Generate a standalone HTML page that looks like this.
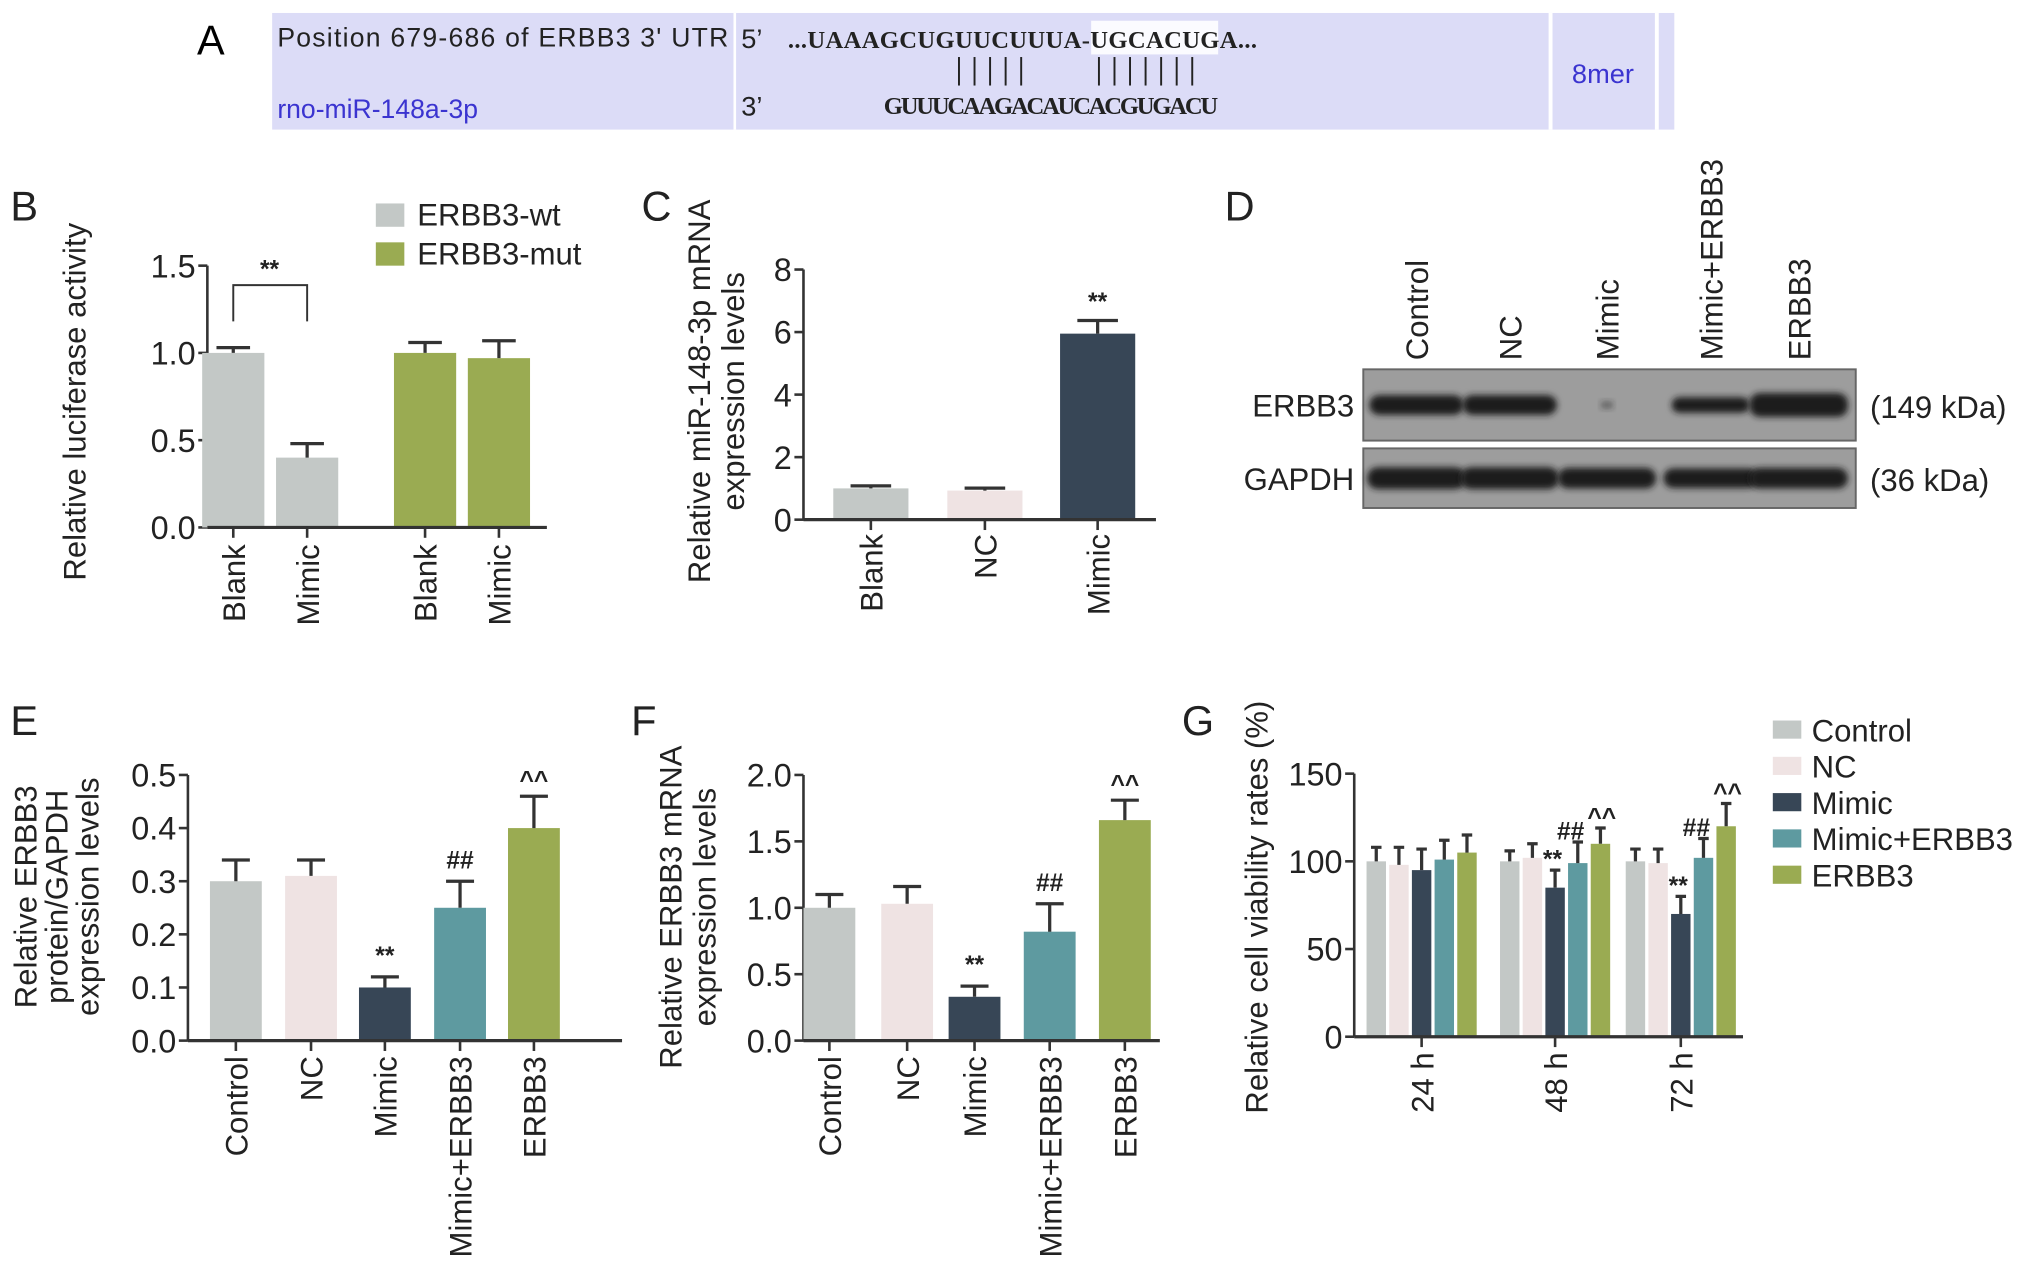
<!DOCTYPE html>
<html><head><meta charset="utf-8"><style>
html,body{margin:0;padding:0;background:#fff;}
svg{display:block;font-family:"Liberation Sans",sans-serif;}
</style></head><body>
<svg id="fig" width="2032" height="1281" viewBox="0 0 1568 988.5" xmlns="http://www.w3.org/2000/svg">
<defs><filter id="blur" x="-20%" y="-60%" width="140%" height="220%"><feGaussianBlur stdDeviation="2.5"/></filter></defs>
<g>
<text x="152" y="42" font-size="32">A</text>
<rect x="210" y="10" width="1082" height="90" fill="#dcdcf7"/>
<rect x="566" y="10" width="2" height="90" fill="#fff"/>
<rect x="1195" y="10" width="3" height="90" fill="#fff"/>
<rect x="1277" y="10" width="3" height="90" fill="#fff"/>
<rect x="842" y="16" width="98" height="26" fill="#fbfbff"/>
<text x="214" y="36" font-size="20.5" fill="#222" textLength="348">Position 679-686 of ERBB3 3' UTR</text>
<text x="214" y="91" font-size="20.5" fill="#3b34d0">rno-miR-148a-3p</text>
<text x="572" y="37" font-size="21" fill="#222">5’</text>
<text x="572" y="89" font-size="21" fill="#222">3’</text>
<text x="608" y="37" font-size="19" font-family="Liberation Serif,serif" font-weight="bold" fill="#222" textLength="362">...UAAAGCUGUUCUUUA-UGCACUGA...</text>
<text x="682" y="88" font-size="19" font-family="Liberation Serif,serif" font-weight="bold" fill="#222" textLength="258">GUUUCAAGACAUCACGUGACU</text>
<g id="pairs" stroke="#222" stroke-width="1.5"></g>
<text x="1213" y="64" font-size="21" fill="#3b34d0">8mer</text>
</g>
<g id="plots"></g>
</svg>
<script>
// ---- data ----
const bCats=["Blank","Mimic","Blank","Mimic"];
const bVals=[1.0,0.40,1.0,0.97];
const bErr=[0.03,0.08,0.06,0.10];
const cCats=["Blank","NC","Mimic"];
const cVals=[1.0,0.93,5.95];
const cErr=[0.08,0.08,0.42];
const eCats=["Control","NC","Mimic","Mimic+ERBB3","ERBB3"];
const eVals=[0.30,0.31,0.10,0.25,0.40];
const eErr=[0.04,0.03,0.02,0.05,0.06];
const fVals=[1.0,1.03,0.33,0.82,1.66];
const fErr=[0.10,0.13,0.08,0.21,0.15];
const gTimes=["24 h","48 h","72 h"];
const gSeries=["Control","NC","Mimic","Mimic+ERBB3","ERBB3"];
const g24=[100,98,95,101,105];
const g48=[100,102,85,99,110];
const g72=[100,99,70,102,120];
const gErr24=[8,10,12,11,10];
const gErr48=[6,8,10,12,9];
const gErr72=[7,8,10,11,13];
const bTicks=["0.0","0.5","1.0","1.5"];
const cTicks=["0","2","4","6","8"];
const eTicks=["0.0","0.1","0.2","0.3","0.4","0.5"];
const fTicks=["0.0","0.5","1.0","1.5","2.0"];
const gTicks=["0","50","100","150"];
const lanes=["Control","NC","Mimic","Mimic+ERBB3","ERBB3"];
const erbbBand=[0.95,0.95,0.05,0.75,1.15];
const gapdhBand=[1.05,1.05,1.0,0.95,1.0];

const COLORS=["#c3c8c6","#efe3e3","#374656","#5e9aa0","#9aab52"];
const NS="http://www.w3.org/2000/svg";
const root=document.getElementById('plots');
function mk(tag,at,parent){const e=document.createElementNS(NS,tag);for(const k in at)e.setAttribute(k,at[k]);(parent||root).appendChild(e);return e;}
function txt(s,at,parent){const e=mk('text',Object.assign({'font-size':23,fill:'#222'},at),parent);e.textContent=s;return e;}

const pg=document.getElementById('pairs');
[740,752,764,776,788,848,860,872,884,896,908,920].forEach(x=>{const l=mk('line',{x1:x,x2:x,y1:44,y2:66},pg);

});

function axisY(g,x0,y0,y1,vmax,ticks){
  const sc=v=>y0-(y0-y1)*v/vmax;
  const ax=mk('line',{x1:x0,x2:x0,y1:y0,y2:y1,stroke:'#333','stroke-width':2},g);
  
  
  ticks.forEach((t,i)=>{const v=vmax*i/(ticks.length-1);const y=sc(v);
    const tk=mk('line',{x1:x0-7,x2:x0,y1:y,y2:y,stroke:'#333','stroke-width':2},g);
    
    
    const tl=txt(t,{x:x0-9,y:y+9,'text-anchor':'end','font-size':25},g);
    
    });
  return sc;
}
function bar(g,cx,w,y0,sc,v,err,col){
  const r=mk('rect',{x:cx-w/2,y:sc(v),width:w,height:y0-sc(v),fill:col},g);
  
  
  const e=mk('path',{d:`M${cx},${sc(v)}V${sc(v+err)}M${cx-w*0.27},${sc(v+err)}H${cx+w*0.27}`,stroke:'#333','stroke-width':2.5,fill:'none'},g);
  
  
}
function xAxis(g,x0,x1,y0,centers,labels,endY){
  const ax=mk('line',{x1:x0,x2:x1,y1:y0,y2:y0,stroke:'#333','stroke-width':2.5},g);
  
  
  centers.forEach((c,i)=>{
    const tk=mk('line',{x1:c,x2:c,y1:y0,y2:y0+8,stroke:'#333','stroke-width':2},g);
    
    
    const t=txt(labels[i],{x:0,y:0,'text-anchor':'end',transform:`translate(${c+9},${endY}) rotate(-90)`,'font-size':24},g);
    
    });
}
function panelLabel(s,x,y){const t=txt(s,{x:x,y:y,'font-size':32});
  
  }
function ytitle(g,lines,xs,cy){lines.forEach((s,i)=>{const t=txt(s,{x:0,y:0,'text-anchor':'middle',transform:`translate(${xs[i]},${cy}) rotate(-90)`,'font-size':24},g);
  
  });}
function note(g,s,x,y){const t=txt(s,{x:x,y:y,'text-anchor':'middle','font-size':19,'font-weight':'bold'},g);
  
  }

// ---- Panel B ----
panelLabel('B',8,170);
const gB=mk('g',{});


const scB=axisY(gB,160,407,205,1.5,bTicks);
const bX=[180,237,328,385];
bVals.forEach((v,i)=>bar(gB,bX[i],48,407,scB,v,bErr[i],i<2?COLORS[0]:COLORS[4]));
xAxis(gB,160,422,407,bX,bCats,420);
ytitle(gB,["Relative luciferase activity"],[66,0],310);
const br=mk('path',{d:`M${bX[0]},248V220H${bX[1]}V248`,stroke:'#333','stroke-width':1.5,fill:'none'},gB);


note(gB,'**',208,214);
[["ERBB3-wt",COLORS[0],157],["ERBB3-mut",COLORS[4],187]].forEach(([s,c,y])=>{
  const r=mk('rect',{x:290,y:y,width:22,height:18,fill:c},gB);
  
  
  const t=txt(s,{x:322,y:y+17,'font-size':24},gB);
  
  });

// ---- Panel C ----
panelLabel('C',495,170);
const gC=mk('g',{});


const scC=axisY(gC,620,401,208,8,cTicks);
const cX=[672,760,847];
const cCol=[COLORS[0],COLORS[1],COLORS[2]];
cVals.forEach((v,i)=>bar(gC,cX[i],58,401,scC,v,cErr[i],cCol[i]));
xAxis(gC,620,892,401,cX,cCats,412);
ytitle(gC,["Relative miR-148-3p mRNA","expression levels"],[548,574],302);
note(gC,'**',847,scC(cVals[2]+cErr[2])-8);

// ---- Panel D ----
panelLabel('D',945,170);
const gD=mk('g',{});


const laneX=[1093,1165,1240,1320,1388];
lanes.forEach((s,i)=>{const t=txt(s,{x:0,y:0,transform:`translate(${laneX[i]+9},278) rotate(-90)`,'font-size':24},gD);
  
  });
[[285,55,erbbBand,"ERBB3","(149 kDa)",'erbb3-blot'],[346,46,gapdhBand,"GAPDH","(36 kDa)",'gapdh-blot']].forEach(([y,h,bands,name,kda,dn])=>{
  const r=mk('rect',{x:1052,y:y,width:380,height:h,fill:'#9d9d9d',stroke:'#666','stroke-width':1.5},gD);
  
  
  bands.forEach((b,i)=>{
    const w=b<0.2?10:Math.min(76,64*b+12), hh=b<0.2?5:16*Math.min(b,1.15);
    const e=mk('rect',{x:laneX[i]-w/2,y:y+h/2-hh/2,width:w,height:hh,rx:Math.min(hh/2,8),fill:'#1c1c1c',opacity:b<0.2?0.5:1,filter:'url(#blur)'},gD);
    
    });
  const t=txt(name,{x:1045,y:y+h/2+9,'text-anchor':'end','font-size':24},gD);
  
  
  const k=txt(kda,{x:1443,y:y+h/2+10,'font-size':24},gD);
  
  });

// ---- Panel E ----
panelLabel('E',8,567);
const gE=mk('g',{});


const scE=axisY(gE,145,803,598,0.5,eTicks);
const eX=[182,240,297,355,412];
eVals.forEach((v,i)=>bar(gE,eX[i],40,803,scE,v,eErr[i],COLORS[i]));
xAxis(gE,145,480,803,eX,eCats,815);
ytitle(gE,["Relative ERBB3","protein/GAPDH","expression levels"],[28,52,76],692);
note(gE,'**',297,scE(eVals[2]+eErr[2])-10);
note(gE,'##',355,scE(eVals[3]+eErr[3])-10);
note(gE,'^^',412,scE(eVals[4]+eErr[4])-6);

// ---- Panel F ----
panelLabel('F',487,567);
const gF=mk('g',{});


const scF=axisY(gF,620,803,598,2.0,fTicks);
const fX=[640,700,752,810,868];
fVals.forEach((v,i)=>bar(gF,fX[i],40,803,scF,v,fErr[i],COLORS[i]));
xAxis(gF,620,895,803,fX,eCats,815);
ytitle(gF,["Relative ERBB3 mRNA","expression levels"],[526,552],700);
note(gF,'**',752,scF(fVals[2]+fErr[2])-10);
note(gF,'##',810,scF(fVals[3]+fErr[3])-10);
note(gF,'^^',868,scF(fVals[4]+fErr[4])-6);

// ---- Panel G ----
panelLabel('G',912,567);
const gG=mk('g',{});


const scG=axisY(gG,1045,800,597,150,gTicks);
const gX=[1097,1200,1297];
const gData=[g24,g48,g72], gErrs=[gErr24,gErr48,gErr72];
gData.forEach((vals,gi)=>vals.forEach((v,i)=>bar(gG,gX[gi]+(i-2)*17.5,15,800,scG,v,gErrs[gi][i],COLORS[i])));
xAxis(gG,1045,1345,800,gX,gTimes,812);
ytitle(gG,["Relative cell viability rates (%)"],[978],700);
[1,2].forEach(gi=>{
  note(gG,'**',gX[gi]-2,scG(gData[gi][2]+gErrs[gi][2])-2);
  note(gG,'##',gX[gi]+12,scG(gData[gi][3]+gErrs[gi][3])-2);
  note(gG,'^^',gX[gi]+36,scG(gData[gi][4]+gErrs[gi][4])-2);});
gSeries.forEach((s,i)=>{const y=556+i*28;
  const r=mk('rect',{x:1368,y:y,width:22,height:14,fill:COLORS[i]},gG);
  
  
  const t=txt(s,{x:1398,y:y+16,'font-size':24},gG);
  
  });
</script>
</body></html>
